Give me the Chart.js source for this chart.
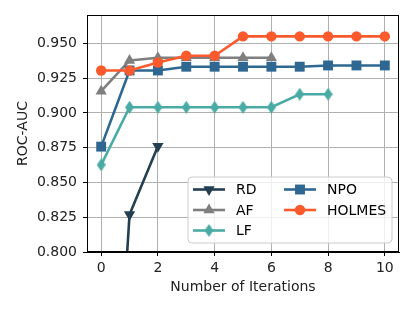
<!DOCTYPE html>
<html>
<head>
<meta charset="utf-8">
<script src="https://cdn.jsdelivr.net/npm/chart.js@4/dist/chart.umd.min.js"></script>
<style>
html,body{margin:0;padding:0;background:#fff;}
#wrap{width:415px;height:312px;}
</style>
</head>
<body>
<div id="wrap"><canvas id="c" width="415" height="312"></canvas></div>
<script>
// ---- data ----
const iterations = [0,1,2,3,4,5,6,7,8,9,10];
const rdValues     = [0.50, 0.827, 0.876];
const afValues     = [0.9157, 0.9378, 0.9397, 0.9397, 0.9397, 0.9397, 0.9397];
const lfValues     = [0.8627, 0.9041, 0.9041, 0.9041, 0.9041, 0.9041, 0.9041, 0.9135, 0.9135];
const npoValues    = [0.8758, 0.9306, 0.9306, 0.9333, 0.9333, 0.9333, 0.9333, 0.9333, 0.9342, 0.9342, 0.9342];
const holmesValues = [0.9306, 0.9306, 0.9363, 0.9412, 0.9412, 0.9551, 0.9551, 0.9551, 0.9551, 0.9551, 0.9551];
const seriesNames  = ['RD','AF','LF','NPO','HOLMES'];
const yTickValues  = [0.800, 0.825, 0.850, 0.875, 0.900, 0.925, 0.950];
const xTickValues  = [0, 2, 4, 6, 8, 10];
const xTitle = 'Number of Iterations';
const yTitle = 'ROC-AUC';

const colors = {RD:'#243f52', AF:'#7f7f7f', LF:'#4aaba5', NPO:'#2e6892', HOLMES:'#fb5a2d'};

function diamondCanvas(color, w, h){
  const c = document.createElement('canvas');
  c.width = w; c.height = h;
  const g = c.getContext('2d');
  g.fillStyle = color;
  g.beginPath();
  g.moveTo(w/2, 0); g.lineTo(w, h/2); g.lineTo(w/2, h); g.lineTo(0, h/2); g.closePath();
  g.fill();
  return c;
}
const lfDiamond = diamondCanvas(colors.LF, 9, 13);

function pts(vals){ return vals.map((v,i)=>({x: iterations[i], y: v})); }

const styleMap = {
  RD:    {pointStyle:'triangle', rotation:180, radius:6.5},
  AF:    {pointStyle:'triangle', rotation:0, radius:6.5},
  LF:    {pointStyle:lfDiamond, rotation:0, radius:6},
  NPO:   {pointStyle:'rect', rotation:0, radius:7},
  HOLMES:{pointStyle:'circle', rotation:0, radius:5.2}
};
const valueMap = {RD:rdValues, AF:afValues, LF:lfValues, NPO:npoValues, HOLMES:holmesValues};

const datasets = seriesNames.map(n => ({
  label: n,
  data: pts(valueMap[n]),
  borderColor: colors[n],
  backgroundColor: colors[n],
  borderWidth: 2.6,
  pointStyle: styleMap[n].pointStyle,
  pointRotation: styleMap[n].rotation,
  pointRadius: styleMap[n].radius,
  pointHoverRadius: styleMap[n].radius,
  pointBorderWidth: 0,
  tension: 0,
  clip: 0
}));
// draw order: matplotlib draws later series on top
datasets.forEach((d,i)=>{ d.order = seriesNames.length - i; });

const FONT = "'DejaVu Sans', sans-serif";

const framePlugin = {
  id:'frame',
  afterDatasetsDraw(chart){
    const {ctx, chartArea:a} = chart;
    ctx.save();
    ctx.strokeStyle = '#000';
    ctx.lineWidth = 1;
    ctx.strokeRect(a.left+0.5, a.top+0.5, a.right-a.left-1, a.bottom-a.top-1);
    ctx.restore();
  },
  afterDraw(chart){
    const ctx = chart.ctx;
    // legend box
    const bx = 188, by = 177, bw = 204, bh = 66, r = 4;
    ctx.save();
    ctx.beginPath();
    ctx.moveTo(bx+r, by); ctx.lineTo(bx+bw-r, by); ctx.quadraticCurveTo(bx+bw, by, bx+bw, by+r);
    ctx.lineTo(bx+bw, by+bh-r); ctx.quadraticCurveTo(bx+bw, by+bh, bx+bw-r, by+bh);
    ctx.lineTo(bx+r, by+bh); ctx.quadraticCurveTo(bx, by+bh, bx, by+bh-r);
    ctx.lineTo(bx, by+r); ctx.quadraticCurveTo(bx, by, bx+r, by);
    ctx.closePath();
    ctx.fillStyle = 'rgba(255,255,255,0.8)';
    ctx.fill();
    ctx.strokeStyle = '#cccccc';
    ctx.lineWidth = 1;
    ctx.stroke();
    const layout = [
      {n:'RD', x:193, y:189.5},
      {n:'AF', x:193, y:210},
      {n:'LF', x:193, y:230.5},
      {n:'NPO', x:284, y:189.5},
      {n:'HOLMES', x:284, y:210}
    ];
    ctx.font = "14px " + FONT;
    ctx.textBaseline = 'middle';
    layout.forEach(it=>{
      const c = colors[it.n];
      ctx.strokeStyle = c; ctx.lineWidth = 2.6;
      ctx.beginPath(); ctx.moveTo(it.x, it.y); ctx.lineTo(it.x+32, it.y); ctx.stroke();
      const st = styleMap[it.n];
      const cx = it.x+16, cy = it.y;
      ctx.fillStyle = c;
      ctx.beginPath();
      if (st.pointStyle === 'circle'){ ctx.arc(cx, cy, st.radius, 0, Math.PI*2); ctx.fill(); }
      else if (st.pointStyle === 'rect'){ const s = st.radius*Math.SQRT1_2; ctx.fillRect(cx-s, cy-s, 2*s, 2*s); }
      else if (st.pointStyle === 'triangle'){
        const rr = st.radius;
        let rad = st.rotation*Math.PI/180;
        ctx.moveTo(cx + Math.sin(rad)*rr, cy - Math.cos(rad)*rr);
        rad += 2*Math.PI/3; ctx.lineTo(cx + Math.sin(rad)*rr, cy - Math.cos(rad)*rr);
        rad += 2*Math.PI/3; ctx.lineTo(cx + Math.sin(rad)*rr, cy - Math.cos(rad)*rr);
        ctx.closePath(); ctx.fill();
      } else {
        ctx.drawImage(st.pointStyle, cx - st.pointStyle.width/2, cy - st.pointStyle.height/2);
      }
      ctx.fillStyle = '#000';
      ctx.textAlign = 'left';
      ctx.fillText(it.n, it.x+43, it.y+1);
    });
    ctx.restore();
  }
};

new Chart(document.getElementById('c'), {
  type: 'line',
  data: { datasets },
  options: {
    responsive: false,
    animation: false,
    events: [],
    layout: { padding: { left: 0, right: 16, top: 15, bottom: 0 } },
    plugins: { legend: { display: false }, tooltip: { enabled: false } },
    scales: {
      x: {
        type: 'linear', min: -0.5, max: 10.5,
        afterBuildTicks(s){ s.ticks = xTickValues.map(v=>({value:v})); },
        afterFit(s){ s.height = 60; },
        grid: { color: '#b0b0b0', lineWidth: 1, tickLength: 4, tickColor: '#000', tickWidth: 1 },
        border: { color: '#000', width: 1 },
        ticks: { font: { family: FONT, size: 14 }, color: '#222', padding: 4, maxRotation: 0,
                 callback: v => String(v) },
        title: { display: true, text: xTitle, font: { family: FONT, size: 14 }, color: '#222',
                 padding: { top: 0, bottom: 16 } }
      },
      y: {
        type: 'linear', min: 0.8, max: 0.9705,
        afterBuildTicks(s){ s.ticks = yTickValues.map(v=>({value:v})); },
        afterFit(s){ s.width = 87; },
        grid: { color: '#b0b0b0', lineWidth: 1, tickLength: 4, tickColor: '#000', tickWidth: 1 },
        border: { color: '#000', width: 1 },
        ticks: { font: { family: FONT, size: 14 }, color: '#222', padding: 6,
                 callback: v => Number(v).toFixed(3) },
        title: { display: true, text: yTitle, font: { family: FONT, size: 14 }, color: '#222',
                 padding: { top: 15, bottom: 0 } }
      }
    }
  },
  plugins: [framePlugin]
});
</script>
</body>
</html>
